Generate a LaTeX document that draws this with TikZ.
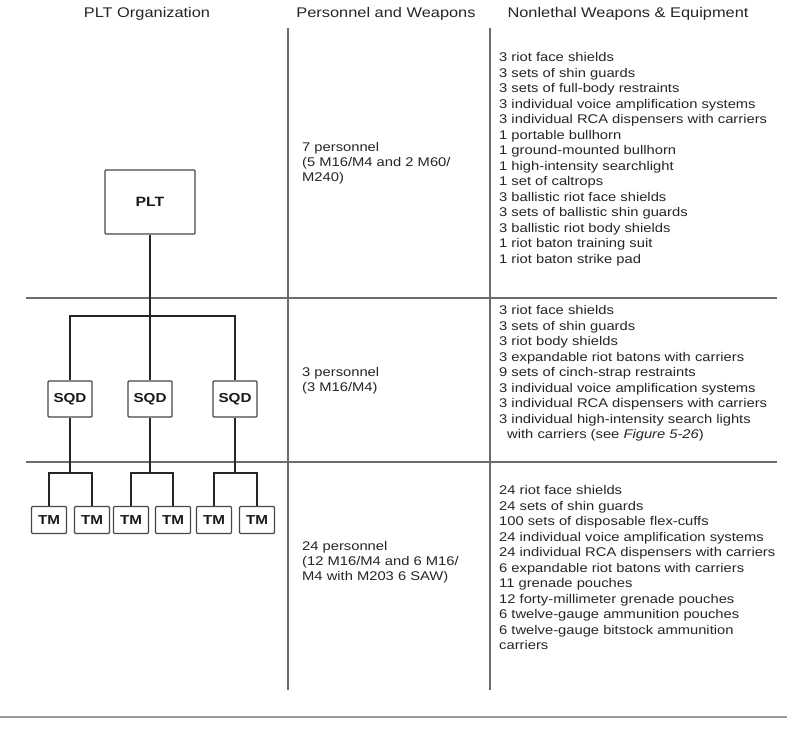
\documentclass[tikz,border=0pt]{standalone}
\usepackage{fontspec}
\setmainfont{Liberation Sans}[FakeStretch=1.17]
\begin{document}
\begin{tikzpicture}[x=1pt,y=-1pt,
  divider/.style={draw=black!58, line width=2.2pt},
  footline/.style={draw=black!40, line width=1.8pt},
  orgline/.style={draw=black!85, line width=1.3pt},
  orgbox/.style={draw=black!72, line width=1.3pt, fill=white, rounded corners=1pt, inner sep=0pt, text=black!90},
  pltbox/.style={orgbox, minimum width=90pt, minimum height=64pt, font=\fontsize{13.5}{15}\selectfont\bfseries},
  sqdbox/.style={orgbox, minimum width=44pt, minimum height=36pt, font=\fontsize{13}{15}\selectfont\bfseries},
  tmbox/.style={orgbox, minimum width=35pt, minimum height=27pt, font=\fontsize{13}{15}\selectfont\bfseries},
  hdr/.style={font=\fontsize{14}{16}\selectfont, text=black!85, inner sep=0pt},
  lst/.style={font=\fontsize{12.6}{15.5}\selectfont, align=left, anchor=base west, inner sep=0pt, text=black!85},
  pers/.style={lst, font=\fontsize{12.6}{15}\selectfont}]
\useasboundingbox[fill=white] (0,0) rectangle (787,733);

% headers
\node[hdr] (h1) at (147,14) {PLT Organization};
\node[hdr] (h2) at (386,14) {Personnel and Weapons};
\node[hdr] (h3) at (628,14) {Nonlethal Weapons \& Equipment};

% dividers
\draw[divider] (288,28) -- (288,690);
\draw[divider] (490,28) -- (490,690);
\draw[divider] (26,298) -- (777,298);
\draw[divider] (26,462) -- (777,462);
\draw[footline] (0,717) -- (787,717);

% org chart
\node[pltbox] (plt) at (150,202) {PLT};
\node[sqdbox] (s1) at (70,399) {SQD};
\node[sqdbox] (s2) at (150,399) {SQD};
\node[sqdbox] (s3) at (235,399) {SQD};
\coordinate (bar) at (150,316);
\coordinate (barl) at (70,316);
\coordinate (barr) at (235,316);
\draw[orgline] (plt.south) -- (bar);
\draw[orgline] (s1.north) -- (barl) -- (barr) -- (s3.north);
\draw[orgline] (bar) -- (s2.north);

\node[tmbox] (t1) at (49,520) {TM};
\node[tmbox] (t2) at (92,520) {TM};
\node[tmbox] (t3) at (131,520) {TM};
\node[tmbox] (t4) at (173,520) {TM};
\node[tmbox] (t5) at (214,520) {TM};
\node[tmbox] (t6) at (257,520) {TM};
\coordinate (j1) at (70,473);
\coordinate (j2) at (150,473);
\coordinate (j3) at (235,473);
\draw[orgline] (s1.south) -- (j1);
\draw[orgline] (s2.south) -- (j2);
\draw[orgline] (s3.south) -- (j3);
\draw[orgline] (t1.north) -- (t1.north |- j1) -- (t2.north |- j1) -- (t2.north);
\draw[orgline] (t3.north) -- (t3.north |- j2) -- (t4.north |- j2) -- (t4.north);
\draw[orgline] (t5.north) -- (t5.north |- j3) -- (t6.north |- j3) -- (t6.north);

% personnel column (anchor = baseline of last line)
\node[pers] (p1) at (302,181.5) {7 personnel\\(5 M16/M4 and 2 M60/\\M240)};
\node[pers] (p2) at (302,391.5) {3 personnel\\(3 M16/M4)};
\node[pers] (p3) at (302,580.5) {24 personnel\\(12 M16/M4 and 6 M16/\\M4 with M203 6 SAW)};

% equipment column (anchor = baseline of last line)
\node[lst] (e1) at (499,263) {3 riot face shields\\
3 sets of shin guards\\
3 sets of full-body restraints\\
3 individual voice amplification systems\\
3 individual RCA dispensers with carriers\\
1 portable bullhorn\\
1 ground-mounted bullhorn\\
1 high-intensity searchlight\\
1 set of caltrops\\
3 ballistic riot face shields\\
3 sets of ballistic shin guards\\
3 ballistic riot body shields\\
1 riot baton training suit\\
1 riot baton strike pad};
\node[lst] (e2) at (499,438.5) {3 riot face shields\\
3 sets of shin guards\\
3 riot body shields\\
3 expandable riot batons with carriers\\
9 sets of cinch-strap restraints\\
3 individual voice amplification systems\\
3 individual RCA dispensers with carriers\\
3 individual high-intensity search lights\\
\hspace*{8pt}with carriers (see \textit{Figure 5-26})};
\node[lst] (e3) at (499,649.5) {24 riot face shields\\
24 sets of shin guards\\
100 sets of disposable flex-cuffs\\
24 individual voice amplification systems\\
24 individual RCA dispensers with carriers\\
6 expandable riot batons with carriers\\
11 grenade pouches\\
12 forty-millimeter grenade pouches\\
6 twelve-gauge ammunition pouches\\
6 twelve-gauge bitstock ammunition\\
carriers};
\end{tikzpicture}
\end{document}
